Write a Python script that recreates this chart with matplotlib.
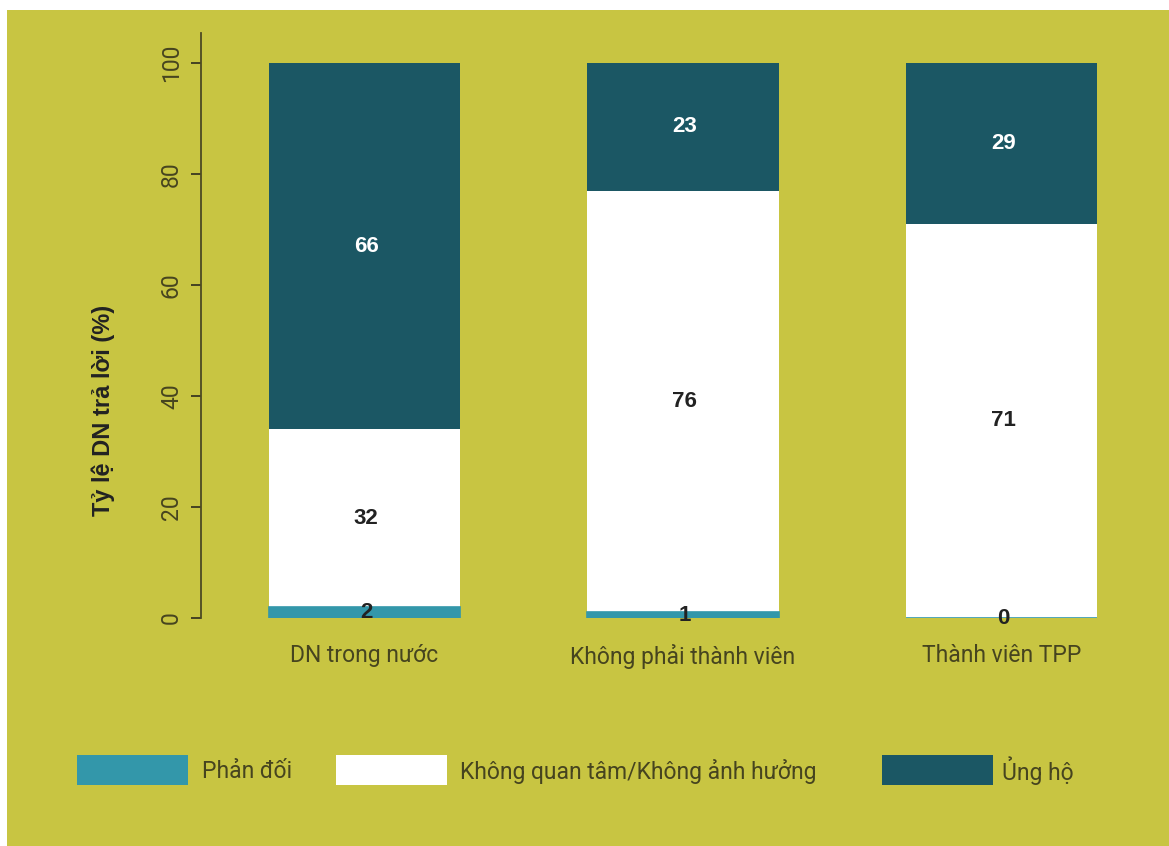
import numpy as np
import matplotlib.pyplot as plt
from matplotlib.patches import Rectangle

plt.rcParams['font.family'] = ['Roboto', 'DejaVu Sans']

groups = ['DN trong nước', 'Không phải thành viên', 'Thành viên TPP']
series = ['Phản đối', 'Không quan tâm/Không ảnh hưởng', 'Ủng hộ']
phan_doi = [2, 1, 0]
khong_quan_tam = [32, 76, 71]
ung_ho = [66, 23, 29]
yticks = [0, 20, 40, 60, 80, 100]

olive = '#c8c542'
colors = ['#3397aa', '#ffffff', '#1b5764']
txt = '#46441f'

W, H = 1169, 846
fig = plt.figure(figsize=(W / 100, H / 100), dpi=100, facecolor='white')
fig.add_artist(Rectangle((7 / W, 0), 1 - 7 / W, 1 - 10 / H, transform=fig.transFigure,
                         facecolor=olive, edgecolor='none', zorder=-10))

# axes: left spine at x=201, y=0 at 618 px, top at 33 px
ax = fig.add_axes([201 / W, 1 - 618 / H, (1145 - 201) / W, (618 - 33) / H])
ax.set_facecolor('none')

x = np.arange(len(groups))
data = [phan_doi, khong_quan_tam, ung_ho]
bottom = np.zeros(len(groups))
for i, vals in enumerate(data):
    vals = np.array(vals, dtype=float)
    if i == 0:
        ax.bar(x, vals, 0.6, bottom=bottom, color=colors[i], edgecolor=colors[i],
               linewidth=1.2, zorder=3)
    else:
        ax.bar(x, vals, 0.6, bottom=bottom, color=colors[i], linewidth=0, zorder=2)
    for xi, b, v in zip(x, bottom, vals):
        c = 'white' if i == 2 else '#222222'
        ax.text(xi + 0.005, b + v / 2, f'{int(v)}', ha='center', va='center', zorder=5,
                fontsize=16, fontweight='bold', color=c, family=['Liberation Sans', 'DejaVu Sans'])
    bottom += vals

ax.set_xlim(-0.513, 2.45)
ax.set_ylim(0, 105.4)
ax.set_yticks(yticks)
ax.set_yticklabels([str(t) for t in yticks], rotation=90, va='center',
                   fontsize=16.5, color=txt)
ax.set_xticks(x)
ax.set_xticklabels(groups, fontsize=16.5, color=txt)
ax.tick_params(axis='x', length=0, pad=19)
ax.tick_params(axis='y', length=7, width=1.3, color='#3a3820', pad=6)
for s in ['top', 'right', 'bottom']:
    ax.spines[s].set_visible(False)
ax.spines['left'].set_color('#4d4a24')
ax.spines['left'].set_linewidth(1.3)
ax.spines['left'].set_bounds(0, 105.4)

fig.text(103 / W, 1 - 410 / H, 'Tỷ lệ DN trả lời (%)', rotation=90, ha='center', va='center',
         fontsize=17, fontweight='bold', color='#222222', family=['Liberation Sans', 'DejaVu Sans'])

# legend
leg_x = [77, 336, 882]
txt_x = [202, 460, 1002]
for lx, tx, c, s in zip(leg_x, txt_x, colors, series):
    fig.add_artist(Rectangle((lx / W, 1 - 785 / H), 111 / W, 30 / H, transform=fig.transFigure,
                             facecolor=c, edgecolor='none'))
    fig.text(tx / W, 1 - 771 / H, s, ha='left', va='center', fontsize=16.5, color=txt)

fig.savefig('out.png', dpi=100, facecolor=fig.get_facecolor())
